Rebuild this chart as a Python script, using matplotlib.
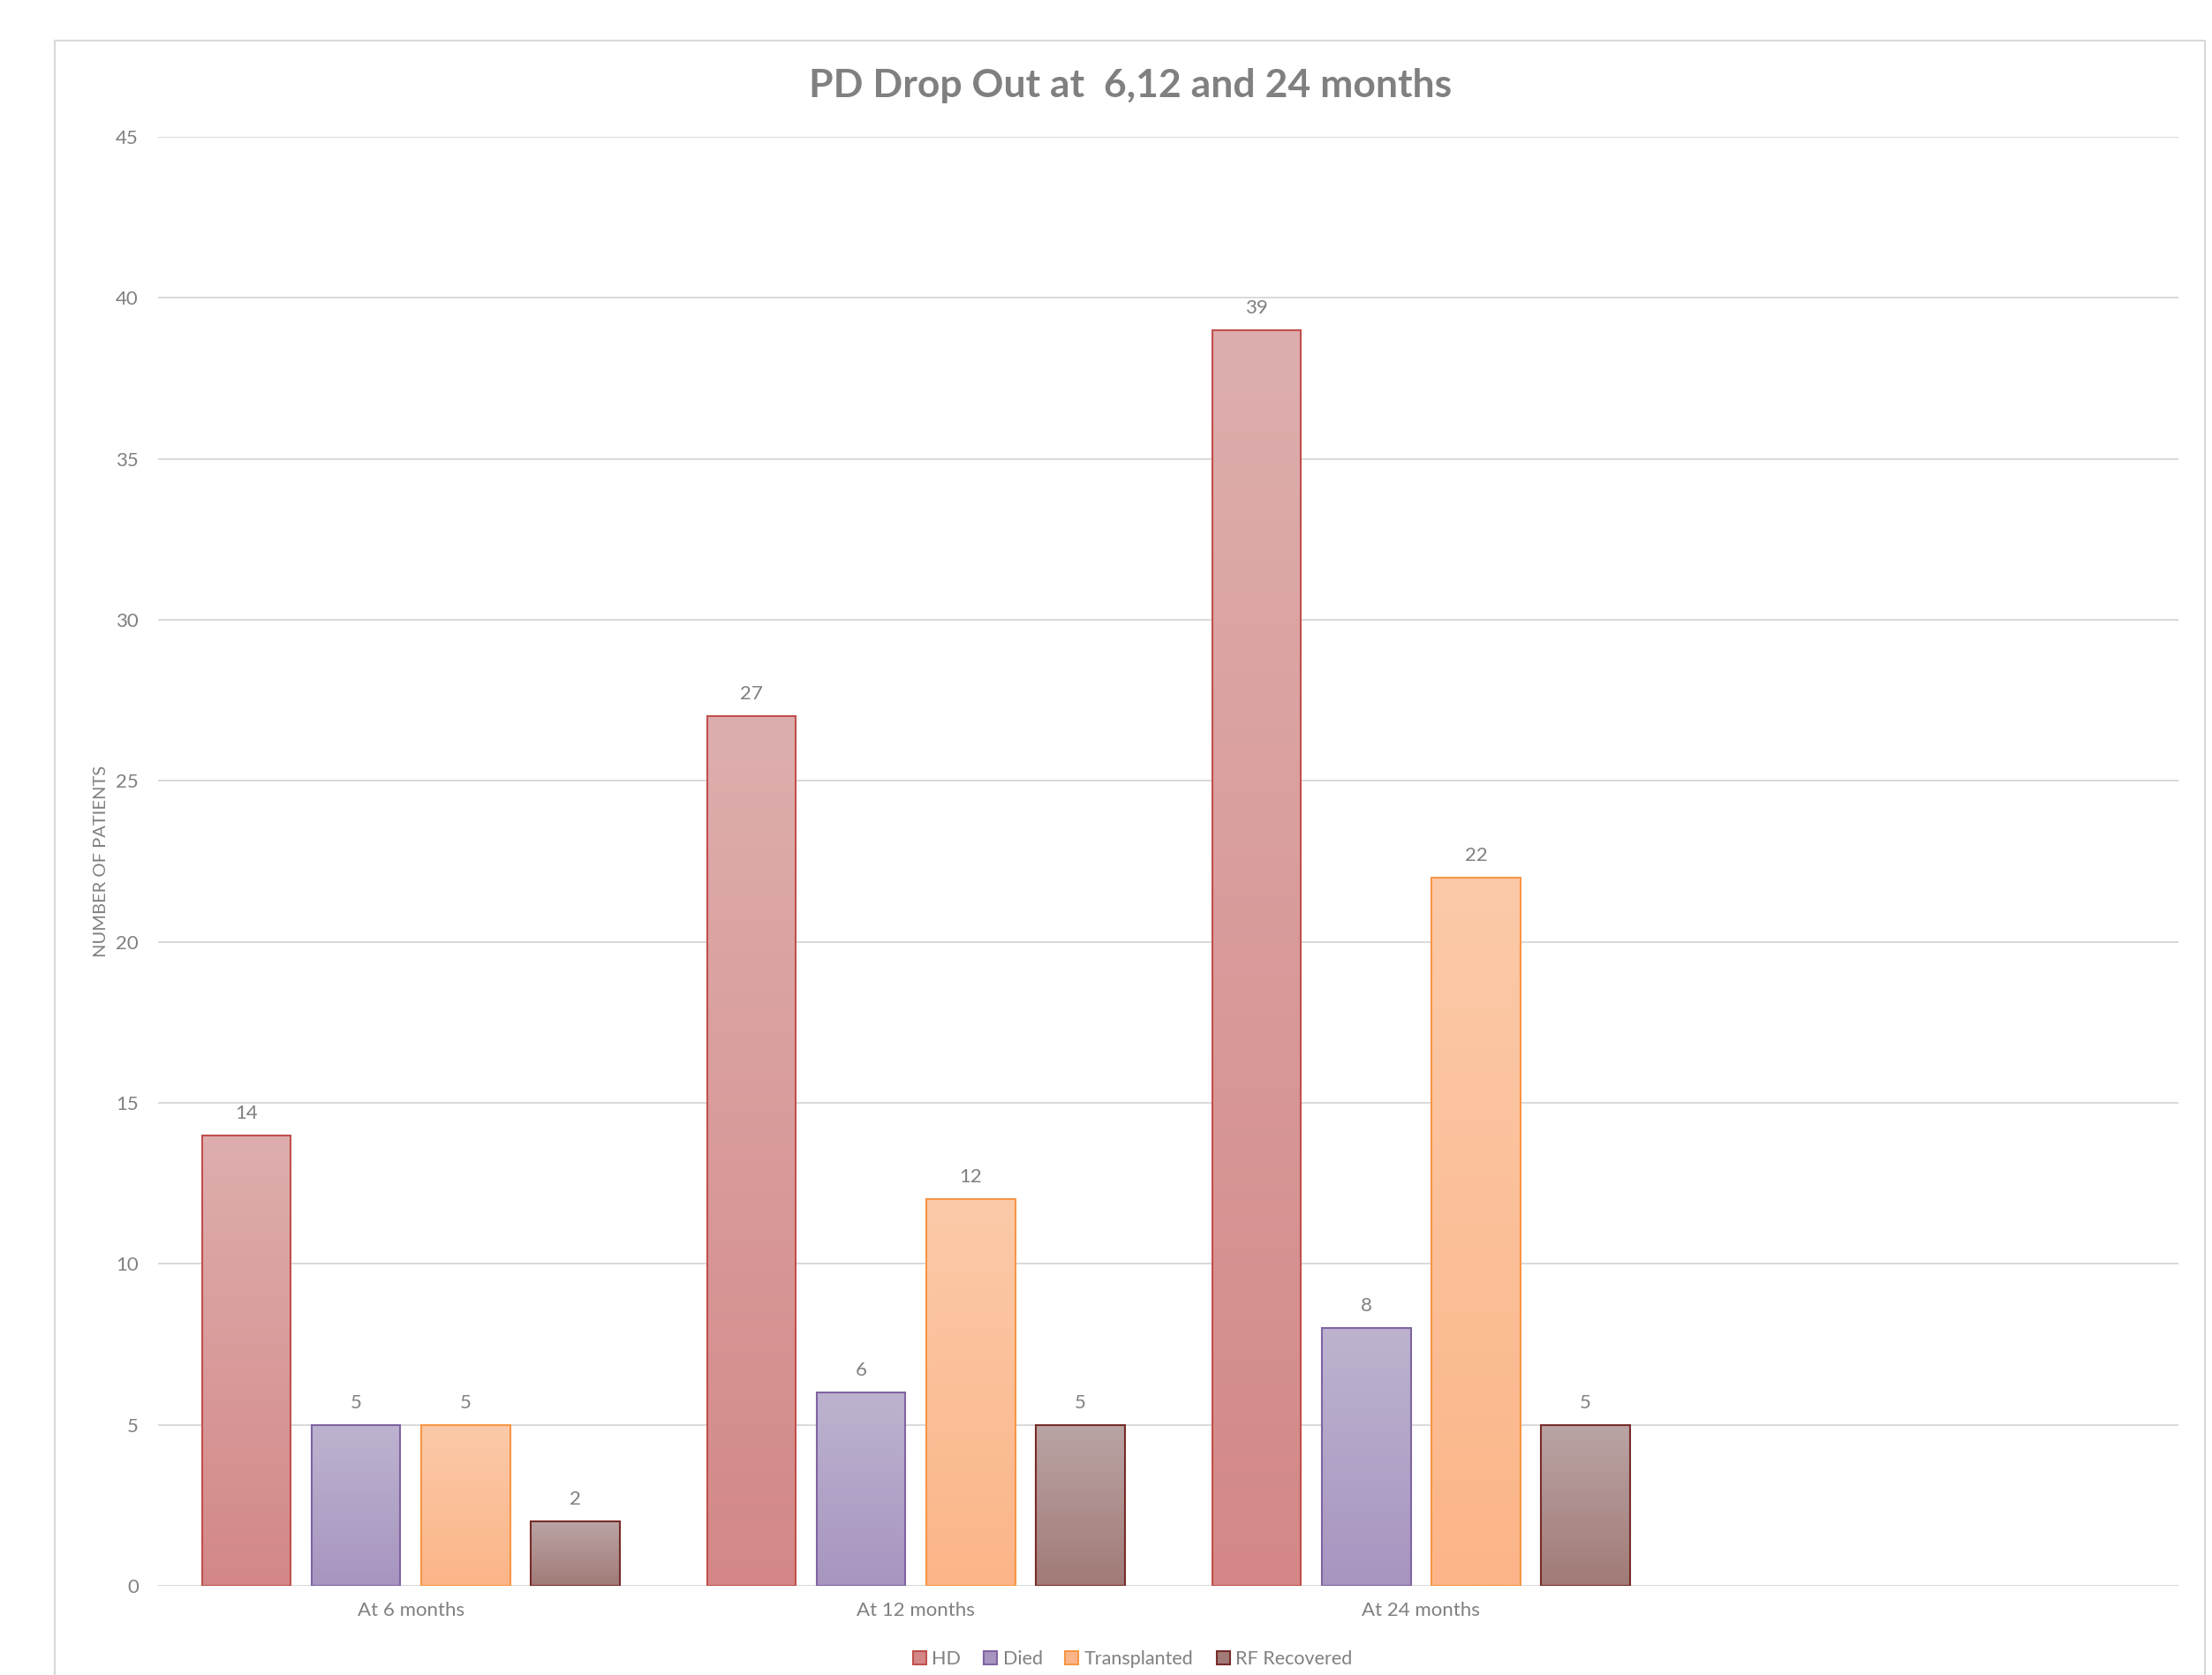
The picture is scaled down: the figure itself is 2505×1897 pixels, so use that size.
import matplotlib
matplotlib.use("Agg")
import matplotlib.pyplot as plt
import numpy as np
from matplotlib.patches import Patch, Rectangle
from matplotlib.colors import to_rgb

plt.rcParams['font.family'] = ['Lato', 'DejaVu Sans']

categories = ["At 6 months", "At 12 months", "At 24 months", ""]
series = ["HD", "Died", "Transplanted", "RF Recovered"]
hd = [14, 27, 39]
died = [5, 6, 8]
transplanted = [5, 12, 22]
rf_recovered = [2, 5, 5]

# (top colour, bottom colour, edge colour) for each series
styles = [("#DEAEAE", "#D38887", "#C0504D"),
          ("#BDB3CF", "#A795C0", "#8064A2"),
          ("#FCCAA9", "#FBB588", "#F79646"),
          ("#BAA4A4", "#A17B77", "#772C2A")]

grey = "#808080"

fig = plt.figure(figsize=(25.05, 18.97), dpi=100)
ax = fig.add_axes([0.0715, 0.0532, 0.9135, 0.8651])

# outer chart frame
fig.patches.append(Rectangle((0.0247, -0.02), 0.972, 0.996, transform=fig.transFigure,
                             fill=False, edgecolor="#D9D9D9", linewidth=1.5, zorder=0))

width = 0.176
step = 0.217
x = np.arange(len(categories))
values = [hd, died, transplanted, rf_recovered]

for i, (name, vals) in enumerate(zip(series, values)):
    top, bottom, edge = styles[i]
    pos = x[:len(vals)] + (i - 1.5) * step
    bars = ax.bar(pos, vals, width, facecolor="none", edgecolor=edge, linewidth=1.5,
                  zorder=3, label=name)
    c1 = np.array(to_rgb(top))
    c2 = np.array(to_rgb(bottom))
    t = np.linspace(0, 1, 256)[:, None]
    grad = (c1 * (1 - t) + c2 * t)[:, None, :]
    for b in bars:
        bx, by = b.get_x(), b.get_y()
        bw, bh = b.get_width(), b.get_height()
        im = ax.imshow(grad, extent=[bx, bx + bw, by, by + bh], origin="upper",
                       aspect="auto", zorder=2, interpolation="bilinear")
        im.set_clip_path(b)
        ax.annotate(str(int(bh)), (bx + bw / 2, bh), xytext=(0, 18),
                    textcoords="offset points", ha="center", va="center",
                    fontsize=16, color=grey)

ax.set_xlim(-0.5, len(categories) - 0.5)
ax.set_ylim(0, 45)
ax.set_yticks(np.arange(0, 46, 5))
ax.set_xticks(x)
ax.set_xticklabels(categories)
ax.tick_params(axis="both", length=0, labelsize=16, labelcolor=grey)
ax.tick_params(axis="y", pad=16)
ax.tick_params(axis="x", pad=13)
ax.grid(axis="y", color="#D9D9D9", linewidth=1.4, zorder=0)
ax.set_axisbelow(True)
for s in ax.spines.values():
    s.set_visible(False)

ax.set_ylabel("NUMBER OF PATIENTS", fontsize=14.5, color=grey)
ax.yaxis.set_label_coords(-0.0245, 0.5)

fig.text(0.511, 0.949, "PD Drop Out at  6,12 and 24 months", ha="center", va="center",
         fontsize=32, fontweight="bold", color=grey)

handles = [Patch(facecolor=st[1], edgecolor=st[2], linewidth=1.5, label=n)
           for n, st in zip(series, styles)]
fig.legend(handles=handles, loc="center", bbox_to_anchor=(0.512, 0.0095), ncol=4,
           frameon=False, fontsize=15.5, labelcolor=grey, handlelength=0.7,
           handleheight=0.7, handletextpad=0.3, columnspacing=1.2)

fig.savefig("out.png", dpi=100)
